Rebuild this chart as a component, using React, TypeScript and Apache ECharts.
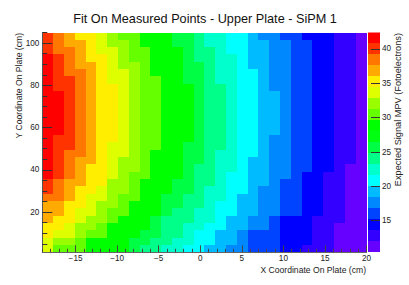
import React, { useEffect, useRef } from "react";
import * as echarts from "echarts";

const titleText = "Fit On Measured Points - Upper Plate - SiPM 1";
const xTitle = "X Coordinate On Plate (cm)";
const yTitle = "Y Coordinate On Plate (cm)";
const zTitle = "Expected Signal MPV (Fotoelectrons)";
const xRange = [-19, 20];
const yRange = [1, 105];
const zRange = [10.4, 42.4];
const xMajor = [-15, -10, -5, 0, 5, 10, 15, 20];
const xMinor = [-19, -18, -17, -16, -14, -13, -12, -11, -9, -8, -7, -6, -4, -3, -2, -1, 1, 2, 3, 4, 6, 7, 8, 9, 11, 12, 13, 14, 16, 17, 18, 19];
const yMajor = [20, 40, 60, 80, 100];
const yMinor = [5, 10, 15, 25, 30, 35, 45, 50, 55, 65, 70, 75, 85, 90, 95, 105];
const zTicks = [15, 20, 25, 30, 35, 40];
const palette = ["#6600ff", "#3300ff", "#0000ff", "#0044ff", "#0088ff", "#00bbff", "#00ffff", "#00ffcc", "#00ff88", "#00ff44", "#00ff11", "#00ff00", "#66ff00", "#99ff00", "#ddff00", "#ffee00", "#ffaa00", "#ff7700", "#ff3300", "#ff0000"];

// One list per column, left to right; each list runs from the top row to the bottom row.
const zColumns: number[][] = [
  [40,40,40,42,42,42,42,42,42,42,42,42,42,42,42,42,42,42,42,42,40,40,38,37,37,37,35,35,34,34],
  [38,38,38,40,40,40,40,40,42,42,42,42,42,42,40,40,40,40,40,40,38,38,38,37,37,35,35,34,32,30],
  [37,37,38,38,38,38,40,40,40,40,40,40,40,40,40,40,38,38,38,38,37,37,37,35,35,35,34,34,32,30],
  [35,37,37,37,37,38,38,38,38,38,38,38,38,38,38,38,38,37,37,37,37,35,35,35,34,34,32,32,30,30],
  [35,35,35,35,37,37,37,37,37,37,37,37,37,37,37,37,37,37,35,35,35,35,34,34,34,32,32,30,29,29],
  [34,34,34,35,35,35,35,35,35,35,35,35,35,35,35,35,35,35,35,35,35,34,34,32,32,32,30,30,29,29],
  [32,32,34,34,34,34,34,35,35,35,35,35,35,35,35,34,34,34,34,34,32,32,32,32,30,30,29,29,29,29],
  [30,32,32,32,32,34,34,34,34,34,34,34,34,34,34,34,34,32,32,32,32,32,30,30,30,29,29,29,29,29],
  [30,30,30,30,32,32,32,32,32,32,32,32,32,32,32,32,32,32,32,30,30,30,30,29,29,29,29,29,26,26],
  [29,29,30,30,30,30,30,30,30,30,30,30,30,30,30,30,30,30,30,30,29,29,29,29,29,29,29,26,26,24],
  [29,29,29,29,29,29,30,30,30,30,30,30,30,30,30,30,29,29,29,29,29,29,29,29,29,26,26,26,24,24],
  [29,29,29,29,29,29,29,29,29,29,29,29,29,29,29,29,29,29,29,29,29,29,26,26,26,24,24,24,24,22],
  [26,26,29,29,29,29,29,29,29,29,29,29,29,29,29,29,29,29,29,29,26,26,26,26,24,24,24,24,22,22],
  [26,26,26,26,26,26,26,29,29,29,29,29,29,29,29,26,26,26,26,26,26,26,24,24,24,24,22,22,22,21],
  [24,24,24,24,26,26,26,26,26,26,26,26,26,26,26,26,26,26,24,24,24,24,24,24,22,22,22,21,21,21],
  [22,22,24,24,24,24,24,24,24,24,24,24,24,24,24,24,24,24,24,24,24,22,22,22,22,22,21,21,21,19],
  [22,22,22,22,22,22,22,24,24,24,24,24,24,24,24,24,22,22,22,22,22,22,22,21,21,21,21,19,19,19],
  [21,21,21,22,22,22,22,22,22,22,22,22,22,22,22,22,22,22,22,21,21,21,21,21,21,19,19,19,19,18],
  [21,21,21,21,21,21,21,21,21,21,21,21,21,21,21,21,21,21,21,21,21,21,19,19,19,19,19,18,18,18],
  [19,19,19,19,19,21,21,21,21,21,21,21,21,21,21,21,21,19,19,19,19,19,19,19,19,18,18,16,16,16],
  [18,19,19,19,19,19,19,19,19,19,19,19,19,19,19,19,19,19,19,19,19,18,18,18,18,18,18,16,16,16],
  [18,18,18,18,18,18,18,18,19,19,19,19,19,19,18,18,18,18,18,18,18,18,18,18,18,16,16,16,16,16],
  [16,18,18,18,18,18,18,18,18,18,18,18,18,18,18,18,18,18,18,18,16,16,16,16,16,14,14,14,14,14],
  [16,16,16,16,16,16,16,16,16,16,16,16,16,16,16,16,16,16,16,16,16,16,16,16,16,14,14,14,14,14],
  [14,16,16,16,16,16,16,16,16,16,16,16,16,16,16,16,16,16,16,14,14,14,14,14,14,14,14,14,14,13],
  [14,14,14,14,14,14,14,14,14,14,14,14,14,14,14,14,14,14,14,14,14,14,14,14,14,13,13,13,13,13],
  [14,14,14,14,14,14,14,14,14,14,14,14,14,14,14,14,14,14,14,13,13,13,13,13,13,13,13,13,13,13],
  [13,13,13,13,13,13,13,13,13,13,13,13,13,13,13,13,13,13,13,13,13,13,13,13,13,13,11,11,11,11],
  [13,13,13,13,13,13,13,13,13,13,13,13,13,13,13,13,13,13,11,11,11,11,11,11,11,11,11,11,11,11],
  [11,11,11,11,11,11,11,11,11,11,11,11,11,11,11,11,11,11,11,11,11,11,11,11,11,11,11,11,11,11],
];

const font = "Liberation Sans";
const nCols = zColumns.length;
const nRows = zColumns[0].length;
const dx = (xRange[1] - xRange[0]) / nCols;
const dy = (yRange[1] - yRange[0]) / nRows;
const dz = (zRange[1] - zRange[0]) / palette.length;

const levelOf = (z: number) =>
  Math.max(0, Math.min(palette.length - 1, Math.floor((z - zRange[0]) / dz)));

const cells: number[][] = [];
zColumns.forEach((col, c) =>
  col.forEach((z, r) => {
    cells.push([xRange[0] + c * dx, yRange[1] - (r + 1) * dy, z]);
  })
);
const barCells = palette.map((_, i) => [0, zRange[0] + i * dz, i]);

function snappedRect(p0: number[], p1: number[], fill: string) {
  const x0 = Math.round(p0[0]);
  const y0 = Math.round(p0[1]);
  const x1 = Math.round(p1[0]);
  const y1 = Math.round(p1[1]);
  return {
    type: "rect",
    shape: { x: x0, y: y0, width: x1 - x0, height: y1 - y0 },
    style: { fill, stroke: "none" },
  };
}

function renderCell(_: any, api: any) {
  const x = api.value(0);
  const y = api.value(1);
  return snappedRect(api.coord([x, y + dy]), api.coord([x + dx, y]), palette[levelOf(api.value(2))]);
}

function renderBar(_: any, api: any) {
  const y = api.value(1);
  return snappedRect(api.coord([0, y + dz]), api.coord([1, y]), palette[api.value(2)]);
}

const labelStyle = { fontFamily: font, fontSize: 8.2, color: "#222" };

export default function App() {
  const ref = useRef<HTMLDivElement>(null);
  useEffect(() => {
    const chart = echarts.init(ref.current!, null, { renderer: "svg" });
    const fmt = (v: number) => String(v).replace("-", "\u2212");
    chart.setOption({
      animation: false,
      backgroundColor: "#fff",
      title: {
        text: titleText,
        left: 200,
        top: 7,
        textAlign: "center",
        textStyle: { fontFamily: font, fontSize: 12.7, fontWeight: "normal", color: "#111" },
      },
      grid: [
        { left: 42.3, top: 32.5, width: 324.2, height: 219.8 },
        { left: 368, top: 32.5, width: 12, height: 219.8 },
      ],
      xAxis: [
        {
          type: "value", gridIndex: 0, min: xRange[0], max: xRange[1], position: "bottom",
          splitLine: { show: false },
          axisLine: { show: true, onZero: false, lineStyle: { color: "#666", width: 1 } },
          axisTick: { show: true, inside: true, length: 7, customValues: xMajor, lineStyle: { color: "#444" } },
          axisLabel: { show: true, margin: 2, customValues: xMajor, formatter: fmt, ...labelStyle },
          z: 5,
        },
        {
          type: "value", gridIndex: 0, min: xRange[0], max: xRange[1], position: "bottom",
          splitLine: { show: false },
          axisLine: { show: false, onZero: false },
          axisTick: { show: true, inside: true, length: 3.5, customValues: xMinor, lineStyle: { color: "#444" } },
          axisLabel: { show: false },
          z: 5,
        },
        {
          type: "value", gridIndex: 1, min: 0, max: 1,
          show: false,
        },
      ],
      yAxis: [
        {
          type: "value", gridIndex: 0, min: yRange[0], max: yRange[1], position: "left",
          splitLine: { show: false },
          axisLine: { show: true, onZero: false, lineStyle: { color: "#555", width: 1 } },
          axisTick: { show: true, inside: true, length: 10, customValues: yMajor, lineStyle: { color: "#333" } },
          axisLabel: { show: true, margin: 3, customValues: yMajor, ...labelStyle },
          z: 5,
        },
        {
          type: "value", gridIndex: 0, min: yRange[0], max: yRange[1], position: "left",
          splitLine: { show: false },
          axisLine: { show: false, onZero: false },
          axisTick: { show: true, inside: true, length: 5, customValues: yMinor, lineStyle: { color: "#333" } },
          axisLabel: { show: false },
          z: 5,
        },
        {
          type: "value", gridIndex: 1, min: zRange[0], max: zRange[1], position: "right",
          splitLine: { show: false },
          axisLine: { show: false, onZero: false },
          axisTick: { show: true, inside: true, length: 9, customValues: zTicks, lineStyle: { color: "#333" } },
          axisLabel: { show: true, margin: 2, customValues: zTicks, ...labelStyle },
          z: 5,
        },
      ],
      series: [
        {
          type: "custom", xAxisIndex: 0, yAxisIndex: 0, data: cells, renderItem: renderCell,
          encode: { x: 0, y: 1 }, silent: true, clip: true, z: 1,
        },
        {
          type: "custom", xAxisIndex: 2, yAxisIndex: 2, data: barCells, renderItem: renderBar,
          encode: { y: 1 }, silent: true, clip: true, z: 1,
        },
      ],
      graphic: [
        {
          type: "text", x: 366, y: 270,
          style: { text: xTitle, fontFamily: font, fontSize: 8.6, fill: "#222", textAlign: "right", textVerticalAlign: "middle" },
        },
        {
          type: "text", x: 19, y: 33, rotation: Math.PI / 2,
          style: { text: yTitle, fontFamily: font, fontSize: 8.6, fill: "#222", textAlign: "right", textVerticalAlign: "middle" },
        },
        {
          type: "text", x: 398, y: 33, rotation: Math.PI / 2,
          style: { text: zTitle, fontFamily: font, fontSize: 9.2, fill: "#222", textAlign: "right", textVerticalAlign: "middle" },
        },
      ],
    });
    return () => chart.dispose();
  }, []);
  return <div ref={ref} style={{ position: "fixed", left: 0, top: 0, width: 409, height: 285 }} />;
}
